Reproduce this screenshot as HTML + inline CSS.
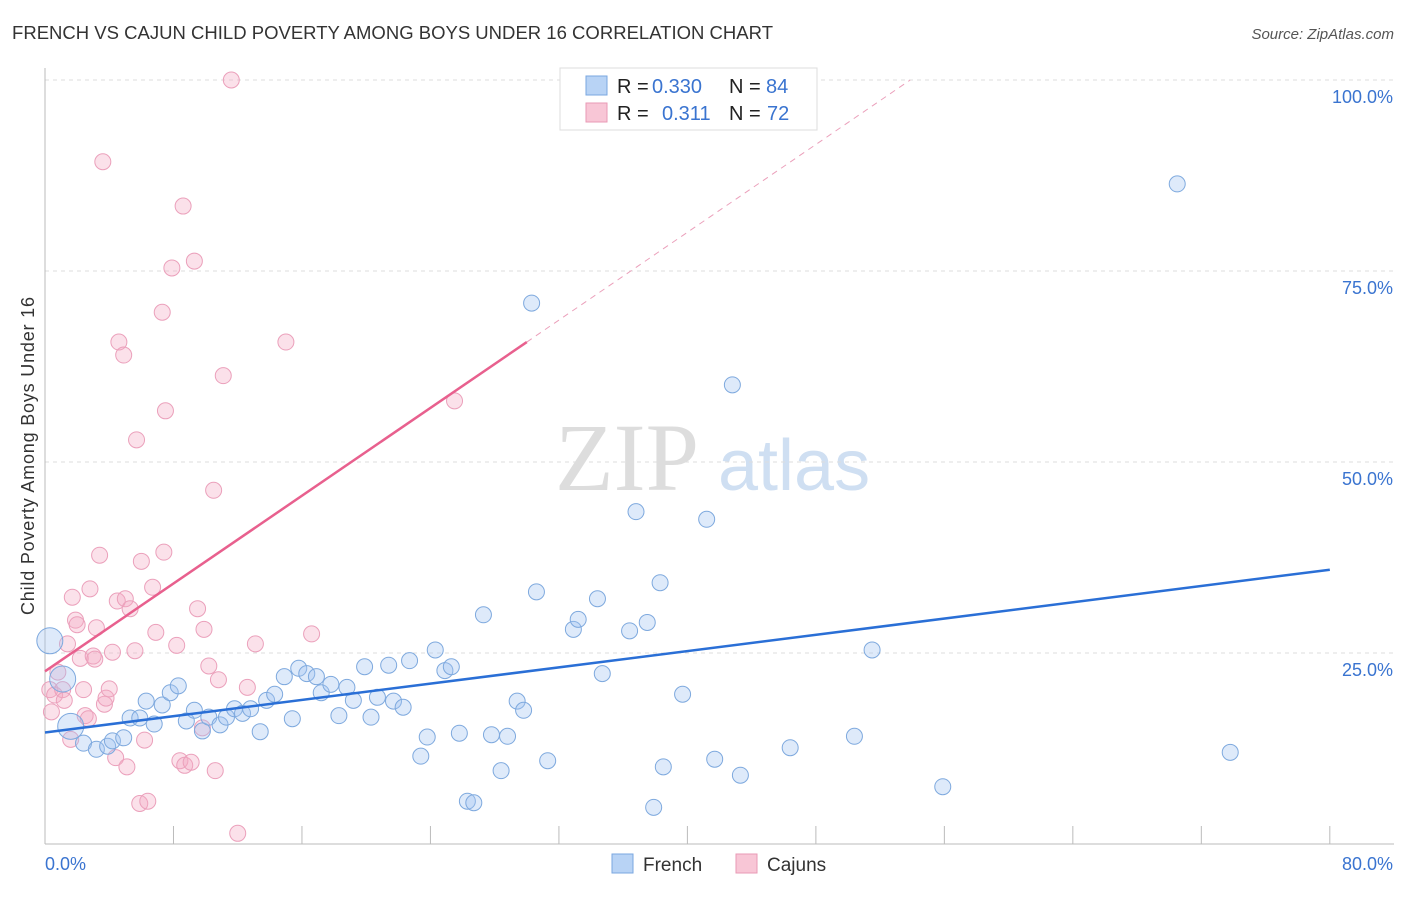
<!DOCTYPE html>
<html><head><meta charset="utf-8"><style>
body{margin:0;background:#fff;font-family:"Liberation Sans",sans-serif}
svg text{font-family:"Liberation Sans",sans-serif}
</style></head><body>
<svg id="c" width="1406" height="892">
<text x="12" y="39" font-size="18.5" fill="#333" textLength="761">FRENCH VS CAJUN CHILD POVERTY AMONG BOYS UNDER 16 CORRELATION CHART</text>
<text x="1394" y="39" font-size="15" fill="#555" font-style="italic" text-anchor="end">Source: ZipAtlas.com</text>
<text x="34" y="456" font-size="18" fill="#333" text-anchor="middle" textLength="318" transform="rotate(-90 34 456)">Child Poverty Among Boys Under 16</text>
<text x="555" y="490" font-size="96" fill="#ddd" style="font-family:'Liberation Serif',serif">ZIP</text>
<text x="718" y="490" font-size="72" fill="#cfdff2">atlas</text>
<g id="grid"></g><g id="marks"></g>
<g>
<rect x="560" y="68" width="257" height="62" fill="#fff" stroke="#ddd"/>
<rect x="586" y="76" width="21" height="19" fill="#b8d3f5" stroke="#7aa7e0"/>
<rect x="586" y="103" width="21" height="19" fill="#f8c6d6" stroke="#e99ab5"/>
<text x="617" y="93" font-size="20" fill="#222">R =</text>
<text x="652" y="93" font-size="20" fill="#3a74d0">0.330</text>
<text x="729" y="93" font-size="20" fill="#222">N =</text>
<text x="766" y="93" font-size="20" fill="#3a74d0">84</text>
<text x="617" y="120" font-size="20" fill="#222">R =</text>
<text x="662" y="120" font-size="20" fill="#3a74d0">0.311</text>
<text x="729" y="120" font-size="20" fill="#222">N =</text>
<text x="767" y="120" font-size="20" fill="#3a74d0">72</text>
</g>
<g>
<rect x="612" y="854" width="21" height="19" fill="#b8d3f5" stroke="#7aa7e0"/>
<text x="643" y="871" font-size="19" fill="#333">French</text>
<rect x="736" y="854" width="21" height="19" fill="#f8c6d6" stroke="#e99ab5"/>
<text x="767" y="871" font-size="19" fill="#333">Cajuns</text>
</g>
</svg>
<script>
const yTicks=[25,50,75,100];
const yTickLabels=["25.0%","50.0%","75.0%","100.0%"];
const xTicks=[8,16,24,32,40,48,56,64,72,80];
const frenchX=[0.3,1.1,1.6,2.4,3.2,3.9,4.2,4.9,5.3,5.9,6.3,6.8,7.3,7.8,8.3,8.8,9.3,9.8,10.2,10.9,11.3,11.8,12.3,12.8,13.4,13.8,14.3,14.9,15.4,15.8,16.3,16.9,17.2,17.8,18.3,18.8,19.2,19.9,20.3,20.7,21.4,21.7,22.3,22.7,23.4,23.8,24.3,24.9,25.3,25.8,26.3,26.7,27.3,27.8,28.4,28.8,29.4,29.8,30.3,30.6,31.3,32.9,33.2,34.4,34.7,36.4,36.8,37.5,37.9,38.3,38.5,39.7,41.2,41.7,42.8,43.3,46.4,50.4,51.5,55.9,70.5,73.8];
const frenchY=[26.6,21.6,15.4,13.2,12.4,12.8,13.5,13.9,16.5,16.5,18.7,15.7,18.2,19.8,20.7,16.1,17.5,14.8,16.6,15.6,16.6,17.7,17.1,17.7,14.7,18.8,19.6,21.9,16.4,23.0,22.3,21.9,19.8,20.9,16.8,20.5,18.8,23.2,16.6,19.2,23.4,18.7,17.9,24.0,11.5,14.0,25.4,22.7,23.2,14.5,5.6,5.4,30.0,14.3,9.6,14.1,18.7,17.5,70.8,33.0,10.9,28.1,29.4,32.1,22.3,27.9,43.5,29.0,4.8,34.2,10.1,19.6,42.5,11.1,60.1,9.0,12.6,14.1,25.4,7.5,86.4,12.0];
const cajunX=[0.3,0.4,0.6,0.8,1.1,1.2,1.4,1.6,1.7,1.9,2.0,2.2,2.4,2.5,2.7,2.8,3.0,3.1,3.2,3.4,3.6,3.7,3.8,4.0,4.2,4.4,4.5,4.6,4.9,5.0,5.1,5.3,5.6,5.7,5.9,6.0,6.2,6.4,6.7,6.9,7.3,7.4,7.5,7.9,8.2,8.4,8.6,8.7,9.1,9.3,9.5,9.8,9.9,10.2,10.5,10.6,10.8,11.1,11.6,12.0,12.6,13.1,15.0,16.6,25.5];
const cajunY=[20.2,17.3,19.5,22.5,20.2,18.8,26.2,13.7,32.3,29.3,28.7,24.3,20.2,16.8,16.4,33.4,24.6,24.2,28.3,37.8,89.3,18.3,19.1,20.3,25.1,11.3,31.8,65.7,64.0,32.1,10.1,30.8,25.3,52.9,5.3,37.0,13.6,5.6,33.6,27.7,69.6,38.2,56.7,75.4,26.0,10.9,83.5,10.3,10.7,76.3,30.8,15.2,28.1,23.3,46.3,9.6,21.5,61.3,100.0,1.4,20.5,26.2,65.7,27.5,58.0];
const frenchLine=[0,14.6,80,35.9];
const cajunLine=[0,22.6,30,65.7];
const NS='http://www.w3.org/2000/svg';
const X=v=>45+v*16.06, Y=v=>844-v*7.64;
function mk(t,a,p){const e=document.createElementNS(NS,t);for(const k in a)e.setAttribute(k,a[k]);p.appendChild(e);return e;}
const g=document.getElementById('grid'),m=document.getElementById('marks');
yTicks.forEach((t,i)=>{
 const l=mk('line',{x1:45,x2:1394,y1:Y(t),y2:Y(t),stroke:'#ddd','stroke-dasharray':'4,4'},g);
 
 
 const tx=mk('text',{x:1393,y:Y(t)+23,'font-size':18,fill:'#3a74d0','text-anchor':'end'},g);
 tx.textContent=yTickLabels[i];
 
 
});
const ax=mk('line',{x1:45,x2:45,y1:68,y2:844,stroke:'#bbb'},g);


const bx=mk('line',{x1:45,x2:1394,y1:844,y2:844,stroke:'#bbb'},g);


xTicks.forEach(t=>{
 const l=mk('line',{x1:X(t),x2:X(t),y1:826,y2:844,stroke:'#bbb'},g);
 
 
});
[[0,'0.0%',45,'start'],[80,'80.0%',1393,'end']].forEach(a=>{
 const tx=mk('text',{x:a[2],y:870,'font-size':18,fill:'#3a74d0','text-anchor':a[3]},g);
 tx.textContent=a[1];
 
 
});
cajunY.forEach((v,i)=>{
 const c=mk('circle',{cx:X(cajunX[i]),cy:Y(v),r:8,fill:'rgba(244,170,195,0.35)',stroke:'#eba0bb','stroke-width':1},m);
 
 
});
frenchY.forEach((v,i)=>{
 const r=i<3?13:8;
 const c=mk('circle',{cx:X(frenchX[i]),cy:Y(v),r:r,fill:'rgba(160,196,240,0.35)',stroke:'#7ea9de','stroke-width':1},m);
 
 
});
const slope=(cajunLine[3]-cajunLine[1])/(cajunLine[2]-cajunLine[0]);
const ex=(100-cajunLine[1])/slope;
const d=mk('line',{x1:X(cajunLine[2]),y1:Y(cajunLine[3]),x2:X(ex),y2:Y(100),stroke:'#eba0bb','stroke-dasharray':'6,5'},m);


const cl=mk('line',{x1:X(cajunLine[0]),y1:Y(cajunLine[1]),x2:X(cajunLine[2]),y2:Y(cajunLine[3]),stroke:'#e8608e','stroke-width':2.5},m);


const fl=mk('line',{x1:X(frenchLine[0]),y1:Y(frenchLine[1]),x2:X(frenchLine[2]),y2:Y(frenchLine[3]),stroke:'#2a6fd6','stroke-width':2.5},m);


</script>
</body></html>
